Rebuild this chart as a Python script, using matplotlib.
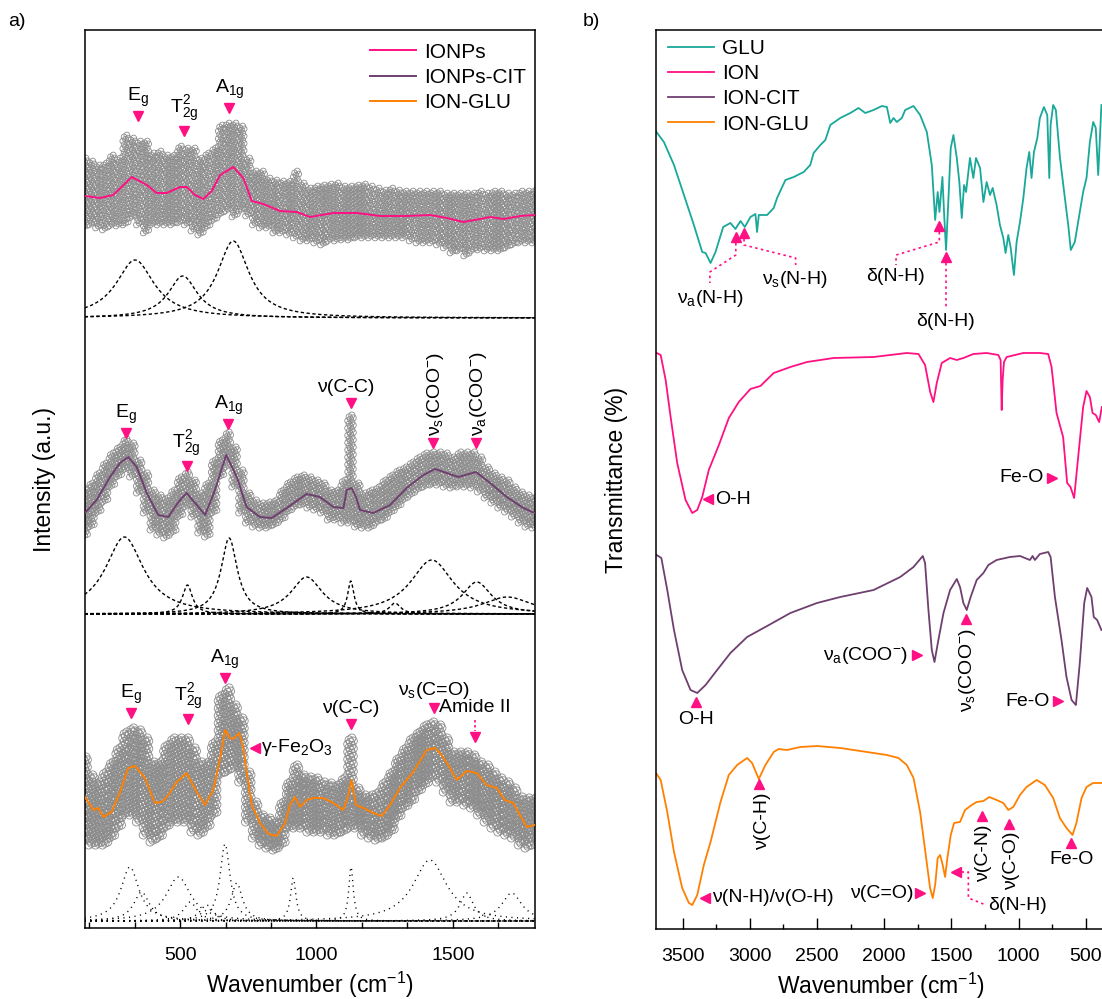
import numpy as np
import matplotlib.pyplot as plt
from matplotlib.ticker import AutoMinorLocator

plt.rcParams['font.family'] = ['Liberation Sans', 'DejaVu Sans']
plt.rcParams['mathtext.fontset'] = 'custom'
plt.rcParams['mathtext.rm'] = 'Liberation Sans'
plt.rcParams['mathtext.it'] = 'Liberation Sans:italic'
plt.rcParams['mathtext.bf'] = 'Liberation Sans:bold'

PINK = '#ff1083'
PURPLE = '#6f3f6f'
ORANGE = '#ff8000'
TEAL = '#19a89a'
GREY = '#8c8c8c'

# ---------------- Raman spectra (a) ----------------
raman_grid = np.arange(150, 1825, 25)   # columns of the measured points
raman_offsets = [610, 314, 7]

# IONPs
ionp_x = [151, 206, 255, 323, 378, 414, 451, 500, 524, 555, 585, 616, 647, 695, 732, 763,
          805, 867, 928, 977, 1062, 1148, 1233, 1331, 1417, 1478, 1539, 1600, 1637, 1686, 1747, 1800]
ionp_y = [122, 120, 123, 141, 133, 125, 125, 131, 131, 123, 119, 127, 143, 151, 140, 117,
          114, 107, 106, 101, 105, 105, 102, 102, 103, 100, 96, 99, 101, 99, 102, 103]
ionp_hi = [160, 157, 153, 155, 163, 160, 183, 180, 177, 177, 165, 167, 163, 163, 172, 170, 170,
           160, 165, 170, 193, 195, 195, 192, 160, 147, 147, 140, 138, 137, 137, 147, 135, 130,
           132, 133, 134, 135, 132, 132, 133, 134, 132, 130, 128, 130, 128, 127, 127, 127, 127,
           127, 127, 125, 125, 125, 125, 125, 127, 125, 127, 127, 125, 125, 127, 127, 128]
ionp_lo = [90, 93, 90, 88, 92, 92, 93, 100, 93, 85, 93, 93, 93, 93, 95, 93, 87, 83, 90, 97,
           103, 107, 101, 107, 102, 93, 90, 90, 85, 85, 83, 80, 77, 77, 75, 73, 77, 77, 78, 78,
           80, 80, 80, 80, 80, 80, 80, 80, 77, 75, 75, 75, 73, 70, 65, 67, 62, 67, 68, 67,
           67, 67, 70, 73, 75, 75, 75]
ionp_centers = [335, 510, 695]
ionp_widths = [85, 65, 70]
ionp_heights = [58, 42, 77]

# IONPs-CIT
cit_x = [151, 194, 243, 280, 310, 341, 378, 420, 457, 494, 524, 555, 592, 628, 669, 708, 744,
         793, 836, 891, 964, 1013, 1062, 1099, 1111, 1129, 1145, 1160, 1209, 1270, 1331, 1392,
         1435, 1478, 1520, 1585, 1637, 1698, 1759, 1800]
cit_y = [101, 114, 137, 151, 157, 147, 121, 99, 97, 112, 121, 111, 99, 124, 159, 137, 107,
         97, 96, 106, 120, 117, 107, 106, 124, 126, 117, 104, 101, 109, 126, 139,
         145, 141, 137, 142, 131, 117, 106, 101]
cit_hi = [124, 131, 141, 151, 161, 167, 175, 171, 154, 141, 124, 119, 116, 124, 137, 142, 134,
          121, 131, 154, 174, 182, 167, 144, 121, 114, 111, 112, 114, 124, 132, 137, 139, 137,
          134, 131, 124, 124, 134, 199, 131, 121, 124, 127, 134, 139, 144, 147, 152, 157, 161,
          162, 162, 161, 157, 162, 162, 162, 157, 147, 141, 137, 134, 127, 122, 119, 117]
cit_lo = [77, 87, 101, 112, 127, 137, 144, 137, 121, 101, 84, 79, 76, 81, 97, 107, 97, 81,
          77, 101, 137, 147, 127, 101, 91, 87, 86, 86, 89, 94, 102, 107, 109, 106, 104, 101,
          94, 94, 91, 91, 87, 86, 86, 91, 94, 101, 107, 114, 119, 124, 127, 129, 129, 127,
          126, 127, 127, 126, 122, 116, 111, 106, 102, 97, 91, 87, 86]
cit_centers = [296, 527, 680, 964, 1126, 1288, 1423, 1588, 1700]
cit_widths = [85, 22, 36, 70, 14, 25, 95, 65, 110]
cit_heights = [77, 29, 76, 37, 33, 11, 54, 32, 17]

# ION-GLU
glu_x = [151, 182, 200, 219, 249, 280, 310, 335, 371, 408, 433, 457, 488, 524, 561, 591, 622,
         647, 665, 683, 695, 717, 732, 744, 763, 793, 824, 854, 885, 903, 921, 940, 964, 989,
         1025, 1062, 1099, 1117, 1129, 1145, 1172, 1209, 1239, 1270, 1306, 1355, 1404, 1435,
         1459, 1490, 1514, 1551, 1588, 1624, 1661, 1691, 1722, 1771, 1800]
glu_y = [124, 111, 113, 104, 109, 129, 153, 155, 143, 118, 119, 126, 139, 148, 129, 116, 131,
         163, 191, 183, 182, 188, 173, 149, 116, 98, 87, 85, 98, 116, 124, 114, 121, 123,
         123, 118, 111, 126, 141, 116, 113, 108, 105, 116, 133, 149, 171, 173,
         166, 153, 141, 150, 148, 136, 133, 121, 118, 94, 96]
glu_hi = [164, 146, 139, 149, 159, 173, 189, 193, 191, 183, 159, 159, 176, 183, 183, 183, 173,
          159, 159, 179, 226, 233, 216, 203, 149, 119, 106, 103, 99, 119, 139, 156, 146, 144,
          143, 139, 138, 136, 143, 183, 133, 126, 126, 129, 139, 149, 163, 173, 183, 189, 196,
          199, 196, 183, 169, 169, 169, 166, 159, 156, 149, 143, 139, 133, 124, 123, 123]
glu_lo = [79, 76, 76, 76, 83, 93, 106, 106, 99, 86, 79, 83, 93, 99, 99, 99, 89, 86, 93, 106,
          146, 149, 153, 139, 99, 83, 76, 73, 71, 76, 93, 93, 93, 89, 89, 89, 86, 86, 89, 93,
          93, 86, 83, 81, 83, 89, 103, 113, 119, 129, 136, 143, 139, 129, 119, 119, 116, 113,
          106, 99, 93, 89, 86, 83, 76, 73, 76]
glu_centers = [316, 359, 494, 537, 597, 665, 708, 915, 1127, 1416, 1551, 1716]
glu_widths = [40, 35, 55, 30, 30, 22, 25, 12, 10, 75, 30, 45]
glu_heights = [54, 29, 44, 19, 16, 77, 38, 43, 54, 61, 28, 28]

# ---------------- FTIR spectra (b) ----------------
ftir_offsets = [650, 410, 220, 20]

glu_ir_x = [3700, 3639, 3564, 3490, 3416, 3354, 3329, 3292, 3255, 3198, 3144, 3107, 3069, 3037,
            2995, 2958, 2946, 2933, 2871, 2822, 2797, 2735, 2673, 2599, 2550, 2525, 2475, 2438,
            2401, 2327, 2252, 2191, 2141, 2079, 2017, 1980, 1955, 1931, 1906, 1869, 1844, 1782,
            1733, 1683, 1646, 1621, 1602, 1589, 1567, 1555, 1540, 1522, 1505, 1485, 1460, 1441,
            1423, 1406, 1391, 1362, 1337, 1317, 1287, 1262, 1238, 1213, 1193, 1164, 1139, 1114,
            1097, 1077, 1060, 1035, 1015, 990, 965, 941, 921, 904, 886, 861, 842, 812, 787, 772,
            762, 743, 723, 693, 656, 631, 612, 582, 545, 520, 495, 470, 445, 426, 408, 384]
glu_ir_y = [148, 137, 114, 84, 54, 27, 26, 16, 27, 52, 56, 50, 58, 52, 62, 65, 47, 64, 64, 71,
            81, 99, 102, 107, 114, 126, 134, 139, 154, 161, 166, 171, 166, 169, 173, 172, 156,
            161, 157, 161, 169, 173, 164, 147, 114, 59, 87, 67, 102, 67, 29, 81, 131, 144, 121,
            97, 61, 94, 87, 121, 101, 121, 111, 77, 97, 84, 91, 74, 54, 41, 26, 44, 32, 4, 37,
            57, 81, 111, 127, 101, 127, 141, 161, 172, 164, 101, 154, 174, 169, 122, 81, 54, 29,
            37, 67, 87, 101, 137, 157, 151, 104, 174]

ion_ir_x = [3693, 3663, 3626, 3589, 3540, 3478, 3428, 3391, 3354, 3305, 3230, 3156, 3082, 2995,
            2921, 2822, 2698, 2574, 2376, 2079, 1832, 1745, 1696, 1658, 1634, 1609, 1572, 1510,
            1460, 1411, 1337, 1238, 1151, 1134, 1126, 1119, 1109, 1089, 965, 842, 780, 755, 718,
            669, 639, 614, 587, 557, 520, 495, 470, 450, 426, 401, 381]
ion_ir_y = [166, 164, 139, 102, 56, 19, 6, 9, 22, 49, 74, 101, 117, 130, 133, 146, 152, 157,
            161, 162, 166, 165, 154, 127, 117, 136, 156, 161, 159, 161, 165, 166, 164, 159, 109,
            139, 157, 162, 166, 166, 165, 152, 106, 82, 36, 32, 21, 62, 112, 128, 122, 106, 104,
            97, 112]

cit_ir_x = [3693, 3658, 3614, 3564, 3503, 3441, 3391, 3329, 3243, 3144, 3020, 2871, 2698, 2500,
            2327, 2079, 1881, 1782, 1713, 1696, 1671, 1646, 1626, 1597, 1559, 1510, 1460, 1436,
            1411, 1386, 1357, 1312, 1262, 1225, 1164, 1065, 990, 916, 896, 879, 842, 780, 762,
            730, 681, 644, 606, 574, 545, 512, 490, 458, 441, 416, 384]
cit_ir_y = [154, 151, 119, 79, 39, 19, 16, 24, 39, 56, 72, 83, 96, 106, 112, 119, 132, 142, 153,
            146, 99, 59, 47, 69, 96, 119, 130, 122, 106, 99, 112, 129, 136, 144, 149, 152, 153,
            149, 153, 149, 155, 157, 152, 112, 69, 32, 9, 4, 46, 106, 121, 112, 92, 89, 79]

iglu_ir_x = [3693, 3663, 3614, 3564, 3503, 3453, 3428, 3391, 3342, 3292, 3218, 3156, 3094, 3020,
             2983, 2933, 2884, 2822, 2785, 2723, 2624, 2500, 2327, 2129, 1980, 1894, 1832, 1782,
             1733, 1688, 1659, 1639, 1621, 1602, 1584, 1565, 1547, 1530, 1505, 1480, 1436, 1399,
             1349, 1312, 1262, 1218, 1164, 1114, 1077, 1040, 990, 941, 866, 805, 743, 693, 644,
             599, 570, 532, 495, 446, 381]
iglu_ir_y = [135, 129, 97, 57, 21, 6, 4, 14, 44, 67, 107, 134, 144, 151, 146, 130, 144, 157, 160,
             159, 162, 163, 161, 157, 154, 151, 144, 131, 97, 51, 21, 11, 24, 51, 54, 44, 32, 51,
             74, 86, 87, 99, 104, 107, 108, 112, 109, 106, 99, 102, 114, 122, 129, 124, 111, 91,
             81, 74, 86, 111, 122, 126, 126]


def lorentz(x, c, w, h):
    return h / (1 + ((x - c) / w) ** 2)


def point_cloud(ax, lo, hi, base, size):
    # measured points: hollow grey rings filling each column between its lowest and highest point
    xs, ys = [], []
    subs = [(-10, 0.0), (-5, 0.55), (0, 0.25), (5, 0.8), (10, 0.4)]
    for dx, ph in subs:
        for xc, l, h in zip(raman_grid, lo, hi):
            n = max(2, int(round((h - l) / 8)) + 1)
            t = (np.arange(n) + ph) / (n - 1 + 0.8)
            xs.extend([xc + dx] * n)
            ys.extend(base + l + (h - l) * t)
    ax.scatter(xs, ys, s=size, facecolor='none', edgecolor=GREY, linewidth=0.6, zorder=2)


def pink(ax, x, y, m):
    ax.plot(x, y, marker=m, ms=7.5, color=PINK, ls='none', zorder=6, clip_on=False)


fig = plt.figure(figsize=(11.02, 9.99), dpi=100)
ax_a = fig.add_axes([84.6 / 1102, 71 / 999, 450 / 1102, 898 / 999])
ax_b = fig.add_axes([655.7 / 1102, 70 / 999, 450.3 / 1102, 899 / 999])

xf = np.linspace(150, 1800, 1200)
raman = [
    (ionp_x, ionp_y, ionp_lo, ionp_hi, ionp_centers, ionp_widths, ionp_heights, PINK, 'IONPs', 17, (0, (2.4, 1.8))),
    (cit_x, cit_y, cit_lo, cit_hi, cit_centers, cit_widths, cit_heights, PURPLE, 'IONPs-CIT', 19, (0, (2.4, 1.8))),
    (glu_x, glu_y, glu_lo, glu_hi, glu_centers, glu_widths, glu_heights, ORANGE, 'ION-GLU', 34, (0, (0.8, 3.2))),
]
handles_a = []
for (x, y, lo, hi, cs, ws, hs, col, name, size, ls), off in zip(raman, raman_offsets):
    point_cloud(ax_a, lo, hi, off, size)
    h, = ax_a.plot(x, np.array(y) + off, color=col, lw=1.4, zorder=3, label=name)
    handles_a.append(h)
    for c, w, hgt in zip(cs, ws, hs):
        ax_a.plot(xf, lorentz(xf, c, w, hgt) + off, color='black', lw=1.0, ls=ls, zorder=1)

ax_a.set_xlim(150, 1800)
ax_a.set_ylim(0, 898)
ax_a.set_yticks([])
ax_a.set_xticks([500, 1000, 1500])
ax_a.xaxis.set_minor_locator(AutoMinorLocator(3))
ax_a.tick_params(axis='x', which='major', direction='in', length=6, width=1, labelsize=14, pad=14)
ax_a.tick_params(axis='x', which='minor', direction='in', length=4, width=1)
ax_a.set_xlabel('Wavenumber (cm$^{-1}$)', fontsize=16.5, labelpad=4)
ax_a.legend(handles=handles_a, loc='upper left', bbox_to_anchor=(0.634, 0.986), frameon=False,
            fontsize=15, handlelength=2.2, handletextpad=0.4, labelspacing=0.3, borderpad=0,
            borderaxespad=0)

fs = 14
# IONPs bands
for x, y, lab in [(345, 812, r'$\mathrm{E_g}$'), (516, 797, r'$\mathrm{T^2_{2g}}$'),
                  (681, 820, r'$\mathrm{A_{1g}}$')]:
    pink(ax_a, x, y, 'v')
    ax_a.text(x, y + 7, lab, ha='center', va='bottom', fontsize=fs)
# IONPs-CIT bands
for x, y, lab in [(301, 495, r'$\mathrm{E_g}$'), (524, 462, r'$\mathrm{T^2_{2g}}$'),
                  (677, 504, r'$\mathrm{A_{1g}}$'), (1126, 525, 'ν(C-C)')]:
    pink(ax_a, x, y, 'v')
    ax_a.text(x if lab != 'ν(C-C)' else 1108, y + 7, lab, ha='center', va='bottom', fontsize=fs)
for x, y, lab in [(1427, 485, 'ν$_\\mathrm{s}$(COO$^\\mathrm{-}$)'), (1585, 485, 'ν$_\\mathrm{a}$(COO$^\\mathrm{-}$)')]:
    pink(ax_a, x, y, 'v')
    ax_a.text(x + 8, y + 7, lab, ha='center', va='bottom', rotation=90, fontsize=fs)
# ION-GLU bands
for x, y, lab in [(320, 215, r'$\mathrm{E_g}$'), (530, 209, r'$\mathrm{T^2_{2g}}$'),
                  (665, 250, r'$\mathrm{A_{1g}}$'), (1127, 204, 'ν(C-C)'),
                  (1431, 220, 'ν$_\\mathrm{s}$(C=O)')]:
    pink(ax_a, x, y, 'v')
    ax_a.text(x, y + 7, lab, ha='center', va='bottom', fontsize=fs)
ax_a.text(1450, 220, 'Amide II', ha='left', va='center', fontsize=fs)
pink(ax_a, 1582, 191, 'v')
ax_a.plot([1582, 1582], [208, 197], color=PINK, lw=1.2, ls=(0, (1.5, 1.5)))
pink(ax_a, 775, 180, '<')
ax_a.text(796, 180, 'γ-Fe$_\\mathrm{2}$O$_\\mathrm{3}$', ha='left', va='center', fontsize=fs)

# ---------------- FTIR drawing ----------------
ftir = [
    (glu_ir_x, glu_ir_y, TEAL, 'GLU'),
    (ion_ir_x, ion_ir_y, PINK, 'ION'),
    (cit_ir_x, cit_ir_y, PURPLE, 'ION-CIT'),
    (iglu_ir_x, iglu_ir_y, ORANGE, 'ION-GLU'),
]
handles_b = []
for (x, y, col, name), off in zip(ftir, ftir_offsets):
    h, = ax_b.plot(x, np.array(y) + off, color=col, lw=1.3, label=name)
    handles_b.append(h)

ax_b.set_xlim(3700, 350)
ax_b.set_ylim(0, 899)
ax_b.set_yticks([])
ax_b.set_xticks([3500, 3000, 2500, 2000, 1500, 1000, 500])
ax_b.xaxis.set_minor_locator(AutoMinorLocator(2))
ax_b.tick_params(axis='x', which='major', direction='in', length=8, width=1, labelsize=14, pad=14)
ax_b.tick_params(axis='x', which='minor', direction='in', length=3.5, width=1)
ax_b.set_xlabel('Wavenumber (cm$^{-1}$)', fontsize=16.5, labelpad=4)
ax_b.legend(handles=handles_b, loc='upper left', bbox_to_anchor=(0.028, 0.99), frameon=False,
            fontsize=15, handlelength=2.2, handletextpad=0.4, labelspacing=0.3, borderpad=0,
            borderaxespad=0)

dots = dict(color=PINK, lw=1.2, ls=(0, (1.5, 2)), zorder=5)
# GLU
pink(ax_b, 3104, 692, '^')
pink(ax_b, 3043, 696, '^')
ax_b.plot([3104, 3104, 3297, 3297], [686, 674, 657, 646], **dots)
ax_b.text(3297, 641, 'ν$_\\mathrm{a}$(N-H)', ha='center', va='top', fontsize=fs)
ax_b.plot([3043, 3043, 2659, 2659], [690, 684, 671, 664], **dots)
ax_b.text(2667, 660, 'ν$_\\mathrm{s}$(N-H)', ha='center', va='top', fontsize=fs)
pink(ax_b, 1596, 703, '^')
ax_b.plot([1590, 1590, 1912, 1912], [697, 687, 674, 664], **dots)
ax_b.text(1915, 661, 'δ(N-H)', ha='center', va='top', fontsize=fs)
pink(ax_b, 1541, 672, '^')
ax_b.plot([1541, 1541], [666, 621], **dots)
ax_b.text(1541, 616, 'δ(N-H)', ha='center', va='top', fontsize=fs)
# ION
pink(ax_b, 3310, 430, '<')
ax_b.text(3255, 430, 'O-H', ha='left', va='center', fontsize=fs)
pink(ax_b, 750, 451, '>')
ax_b.text(812, 451, 'Fe-O', ha='right', va='center', fontsize=fs)
# ION-CIT
pink(ax_b, 3401, 227, '^')
ax_b.text(3401, 218, 'O-H', ha='center', va='top', fontsize=fs)
pink(ax_b, 1756, 274, '>')
ax_b.text(1826, 274, 'ν$_\\mathrm{a}$(COO$^\\mathrm{-}$)', ha='right', va='center', fontsize=fs)
pink(ax_b, 1393, 310, '^')
ax_b.text(1381, 301, 'ν$_\\mathrm{s}$(COO$^\\mathrm{-}$)', ha='center', va='top', rotation=90, fontsize=fs)
pink(ax_b, 706, 228, '>')
ax_b.text(765, 228, 'Fe-O', ha='right', va='center', fontsize=fs)
# ION-GLU
pink(ax_b, 2931, 145, '^')
ax_b.text(2905, 137, 'ν(C-H)', ha='center', va='top', rotation=90, fontsize=fs)
pink(ax_b, 3334, 31, '<')
ax_b.text(3280, 31, 'ν(N-H)/ν(O-H)', ha='left', va='center', fontsize=fs)
pink(ax_b, 1732, 36, '>')
ax_b.text(1780, 36, 'ν(C=O)', ha='right', va='center', fontsize=fs)
pink(ax_b, 1467, 57, '<')
ax_b.plot([1425, 1374, 1374, 1262], [57, 57, 31, 25], **dots)
ax_b.text(1228, 24, 'δ(N-H)', ha='left', va='center', fontsize=fs)
pink(ax_b, 1274, 113, '^')
ax_b.text(1262, 104, 'ν(C-N)', ha='center', va='top', rotation=90, fontsize=fs)
pink(ax_b, 1072, 105, '^')
ax_b.text(1052, 97, 'ν(C-O)', ha='center', va='top', rotation=90, fontsize=fs)
pink(ax_b, 609, 86, '^')
ax_b.text(609, 78, 'Fe-O', ha='center', va='top', fontsize=fs)

for ax in (ax_a, ax_b):
    for sp in ax.spines.values():
        sp.set_linewidth(1.1)

fig.text(8 / 1102, 1 - 21 / 999, 'a)', ha='left', va='center', fontsize=14)
fig.text(583 / 1102, 1 - 21 / 999, 'b)', ha='left', va='center', fontsize=14)
fig.text(45 / 1102, 1 - 480 / 999, 'Intensity (a.u.)', rotation=90, ha='center', va='center', fontsize=16.5)
fig.text(617 / 1102, 1 - 480 / 999, 'Transmittance (%)', rotation=90, ha='center', va='center', fontsize=16.5)

fig.savefig('out.png', dpi=100)
